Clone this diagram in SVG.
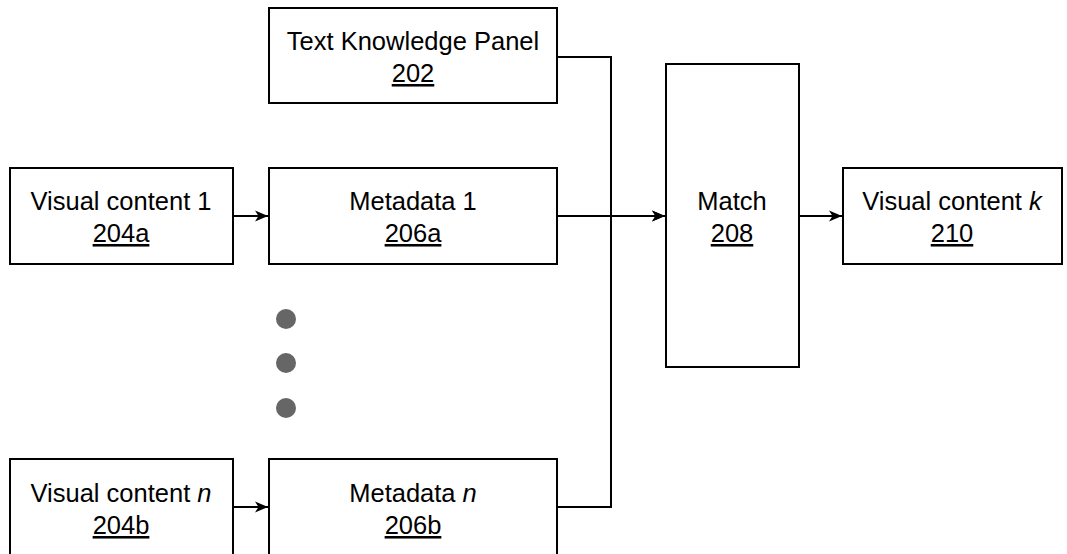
<svg xmlns="http://www.w3.org/2000/svg" width="1067" height="554" viewBox="0 0 1067 554">
<style>
.box{fill:#fff;stroke:#000;stroke-width:2}
.t{font-family:"Liberation Sans",Arial,sans-serif;font-size:25.5px;fill:#000;text-anchor:middle}
.u{text-decoration:underline}
.c{fill:none;stroke:#000;stroke-width:2}
.dot{fill:#666}
</style>
<defs>
<marker id="arr" markerWidth="14" markerHeight="12" refX="13" refY="6" orient="auto" markerUnits="userSpaceOnUse">
<path d="M0,0.5 L13,6 L0,11.5 L3.5,6 Z" fill="#000"/>
</marker>
</defs>
<g id="n202"><rect class="box" x="269" y="8" width="288" height="95"/><text class="t" x="413" y="50">Text Knowledge Panel</text><text class="t u" x="413" y="82">202</text></g>
<g id="n204a"><rect class="box" x="10" y="168" width="223" height="96"/><text class="t" x="121" y="210">Visual content 1</text><text class="t u" x="121" y="242">204a</text></g>
<g id="n206a"><rect class="box" x="269" y="168" width="288" height="96"/><text class="t" x="413" y="210">Metadata 1</text><text class="t u" x="413" y="242">206a</text></g>
<g id="n208"><rect class="box" x="666" y="64" width="133" height="303"/><text class="t" x="732" y="210">Match</text><text class="t u" x="732" y="242">208</text></g>
<g id="n210"><rect class="box" x="843" y="168" width="219" height="96"/><text class="t" x="952" y="210">Visual content <tspan font-style="italic">k</tspan></text><text class="t u" x="952" y="242">210</text></g>
<g id="n204b"><rect class="box" x="10" y="459" width="223" height="100"/><text class="t" x="121" y="502">Visual content <tspan font-style="italic">n</tspan></text><text class="t u" x="121" y="534">204b</text></g>
<g id="n206b"><rect class="box" x="269" y="459" width="288" height="100"/><text class="t" x="413" y="502">Metadata <tspan font-style="italic">n</tspan></text><text class="t u" x="413" y="534">206b</text></g>
<g id="dots"><circle class="dot" cx="286" cy="319" r="10"/><circle class="dot" cx="286" cy="363" r="10"/><circle class="dot" cx="286" cy="408" r="10"/></g>
<g id="connectors">
<path class="c" d="M233,216 L268,216" marker-end="url(#arr)"/>
<path class="c" d="M233,507 L268,507" marker-end="url(#arr)"/>
<path class="c" d="M557,216 L665,216" marker-end="url(#arr)"/>
<path class="c" d="M557,57 L611,57 L611,507 L557,507"/>
<path class="c" d="M611,216 L665,216" stroke-width="3" marker-end="url(#arr)"/>
<path class="c" d="M799,216 L842,216" marker-end="url(#arr)"/>
</g>
</svg>
